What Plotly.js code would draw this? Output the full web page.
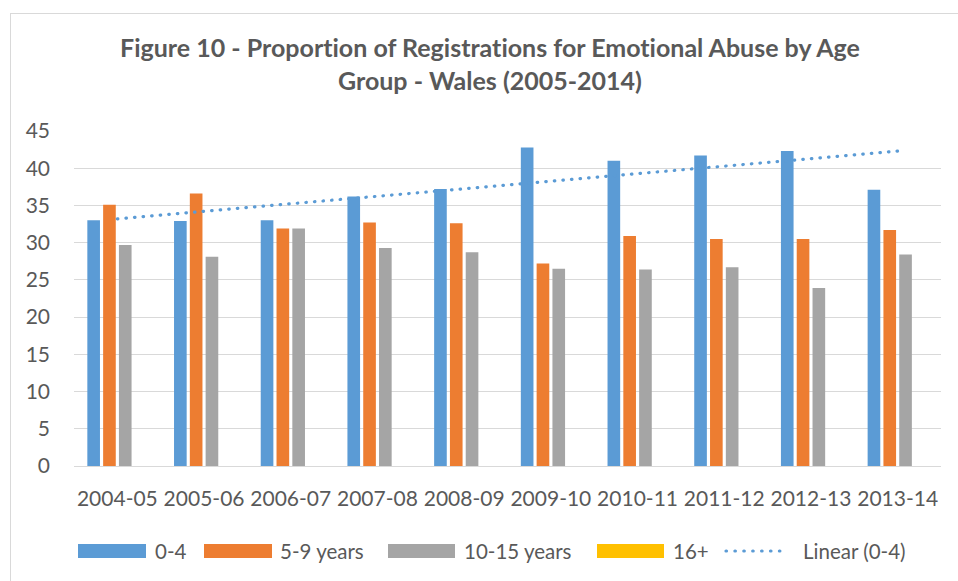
<!DOCTYPE html>
<html>
<head>
<meta charset="utf-8">
<script src="https://cdn.plot.ly/plotly-3.0.1.min.js"></script>
<style>
  html, body { margin: 0; padding: 0; background: #ffffff; }
  #wrap { position: relative; width: 958px; height: 581px; overflow: hidden; }
  #chart { position: absolute; left: 0; top: 0; width: 958px; height: 581px; }
  #frame { position: absolute; left: 10px; top: 13px; width: 1000px; height: 700px;
           border-left: 1px solid #d9d9d9; border-top: 1px solid #d9d9d9; pointer-events: none; }
  .scatterlayer .js-line, .shapelayer path { stroke-linecap: round; }
  svg text { font-variant-ligatures: none; font-feature-settings: "liga" 0, "clig" 0; }
</style>
</head>
<body>
<div id="wrap">
  <div id="chart"></div>
  <div id="frame"></div>
</div>
<script>
// ---- data ----
const years = ["2004-05","2005-06","2006-07","2007-08","2008-09","2009-10","2010-11","2011-12","2012-13","2013-14"];
const age0to4   = [33.0, 32.9, 33.0, 36.2, 37.2, 42.8, 41.0, 41.7, 42.3, 37.1];
const age5to9   = [35.1, 36.6, 31.9, 32.7, 32.6, 27.2, 30.9, 30.5, 30.5, 31.7];
const age10to15 = [29.7, 28.1, 31.9, 29.3, 28.7, 26.5, 26.4, 26.7, 23.9, 28.4];
const age16plus = [0, 0, 0, 0, 0, 0, 0, 0, 0, 0];
const trendYears = ["2004-05", "2013-14"];
const trend0to4  = [33.2, 42.3];
const yTicks = [0, 5, 10, 15, 20, 25, 30, 35, 40, 45];
const seriesNames = ["0-4", "5-9 years", "10-15 years", "16+", "Linear (0-4)"];

const C = { blue: "#5B9BD5", orange: "#ED7D31", gray: "#A5A5A5", yellow: "#FFC000", text: "#595959", grid: "#d9d9d9" };
const FONT = "Lato, 'Open Sans', sans-serif";

function bar(y, name, color) {
  return { type: "bar", x: years, y: y, name: name, marker: { color: color, line: { width: 0 } },
           hoverinfo: "skip", showlegend: false };
}

const traces = [
  bar(age0to4, seriesNames[0], C.blue),
  bar(age5to9, seriesNames[1], C.orange),
  bar(age10to15, seriesNames[2], C.gray),
  bar(age16plus, seriesNames[3], C.yellow),
  { type: "scatter", mode: "lines", x: trendYears, y: trend0to4, name: seriesNames[4],
    line: { color: C.blue, width: 3.2, dash: "0.5px,8.1px" }, hoverinfo: "skip", showlegend: false }
];

// ---- custom legend (pixel layout -> paper coords) ----
const L = 74, R = 941, T = 131, B = 466;
const px = v => (v - L) / (R - L);
const py = v => (B - v) / (B - T);
const legY = 551;
const legItems = [
  { x0: 78,  x1: 146, tx: 153, color: C.blue,   kind: "box" },
  { x0: 204, x1: 272, tx: 278, color: C.orange, kind: "box" },
  { x0: 388, x1: 455, tx: 462, color: C.gray,   kind: "box" },
  { x0: 597, x1: 664, tx: 671, color: C.yellow, kind: "box" },
  { x0: 726, x1: 788, tx: 801, color: C.blue,   kind: "line" }
];
const shapes = [], annotations = [];
legItems.forEach((it, i) => {
  if (it.kind === "box") {
    shapes.push({ type: "rect", xref: "paper", yref: "paper", x0: px(it.x0), x1: px(it.x1),
                  y0: py(legY + 7), y1: py(legY - 7), fillcolor: it.color, line: { width: 0 } });
  } else {
    shapes.push({ type: "line", xref: "paper", yref: "paper", x0: px(it.x0), x1: px(it.x1),
                  y0: py(legY), y1: py(legY), line: { color: it.color, width: 3.2, dash: "0.5px,8.4px" } });
  }
  annotations.push({ xref: "paper", yref: "paper", x: px(it.tx), y: py(legY), xanchor: "left", yanchor: "middle",
                     text: seriesNames[i], showarrow: false, font: { family: FONT, size: 20.5, color: C.text } });
});

const layout = {
  width: 958, height: 581,
  paper_bgcolor: "#ffffff", plot_bgcolor: "#ffffff",
  margin: { l: L, r: 958 - R, t: T, b: 581 - B, pad: 0 },
  font: { family: FONT, color: C.text },
  title: {
    text: "<b>Figure 10 - Proportion of Registrations for Emotional Abuse by Age<br>Group - Wales (2005-2014)</b>",
    font: { family: FONT, size: 25, color: C.text },
    x: 490 / 958, xref: "container", xanchor: "center",
    y: 1 - 57 / 581, yref: "container", yanchor: "top"
  },
  barmode: "group", bargap: 0.271, bargroupgap: 0.2,
  xaxis: {
    type: "category", showgrid: false, zeroline: false,
    showline: true, linecolor: C.grid, linewidth: 1,
    ticks: "", ticklabelstandoff: 14,
    tickfont: { family: FONT, size: 21, color: C.text }
  },
  yaxis: {
    range: [0, 45], tickvals: yTicks, ticktext: yTicks.map(String),
    showgrid: true, gridcolor: C.grid, gridwidth: 1, zeroline: false, showline: false,
    ticks: "", ticklabelstandoff: 23,
    tickfont: { family: FONT, size: 21, color: C.text }
  },
  shapes: shapes, annotations: annotations,
  showlegend: false
};

Plotly.newPlot("chart", traces, layout, { staticPlot: true, displayModeBar: false });
</script>
</body>
</html>
